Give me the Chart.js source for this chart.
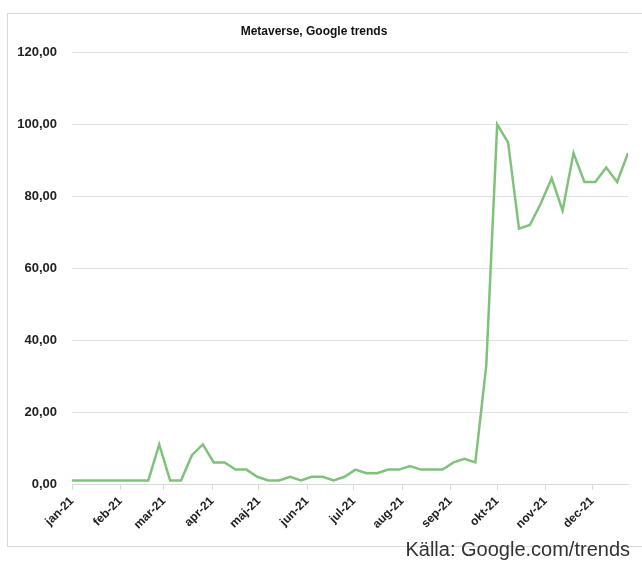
<!DOCTYPE html>
<html>
<head>
<meta charset="utf-8">
<script src="https://cdn.jsdelivr.net/npm/chart.js@4.4.0/dist/chart.umd.min.js"></script>
<style>
  html, body { margin: 0; padding: 0; background: #fff; }
  #wrap { position: relative; width: 642px; height: 561px; overflow: hidden; }
  #frame { position: absolute; left: 7px; top: 13px; width: 660px; height: 532px; border: 1px solid #d9d9d9; }
  #chart { position: absolute; left: 0; top: 0; }
  #source { position: absolute; right: 12px; top: 538px; font: 20px "Liberation Sans", Arial, sans-serif; color: #333; white-space: nowrap; }
</style>
</head>
<body>
<div id="wrap">
  <div id="frame"></div>
  <canvas id="chart" width="642" height="561"></canvas>
  <div id="source">Källa: Google.com/trends</div>
</div>
<script>
// weekly search interest for "metaverse", 2021
const weeks = [
  '2021-01-02', '2021-01-09', '2021-01-16', '2021-01-23', '2021-01-30',
  '2021-02-06', '2021-02-13', '2021-02-20', '2021-02-27',
  '2021-03-06', '2021-03-13', '2021-03-20', '2021-03-27',
  '2021-04-03', '2021-04-10', '2021-04-17', '2021-04-24',
  '2021-05-01', '2021-05-08', '2021-05-15', '2021-05-22', '2021-05-29',
  '2021-06-05', '2021-06-12', '2021-06-19', '2021-06-26',
  '2021-07-03', '2021-07-10', '2021-07-17', '2021-07-24', '2021-07-31',
  '2021-08-07', '2021-08-14', '2021-08-21', '2021-08-28',
  '2021-09-04', '2021-09-11', '2021-09-18', '2021-09-25',
  '2021-10-02', '2021-10-09', '2021-10-16', '2021-10-23', '2021-10-30',
  '2021-11-06', '2021-11-13', '2021-11-20', '2021-11-27',
  '2021-12-04', '2021-12-11', '2021-12-18', '2021-12-25'
];
const trend = [
  1, 1, 1, 1, 1, 1, 1, 1, 11,
  1, 1, 8, 11,
  6, 6, 4, 4,
  2, 1, 1, 2, 1,
  2, 2, 1, 2,
  4, 3, 3, 4, 4,
  5, 4, 4, 4,
  6, 7, 6, 33,
  100, 95, 71, 72, 78,
  85, 76, 92, 84,
  84, 88, 84, 92
];
const monthTicks = [
  '2021-01-02', '2021-02-02', '2021-03-02', '2021-04-02', '2021-05-02', '2021-06-02',
  '2021-07-02', '2021-08-02', '2021-09-02', '2021-10-02', '2021-11-02', '2021-12-02'
];
const monthLabels = [
  'jan-21', 'feb-21', 'mar-21', 'apr-21', 'maj-21', 'jun-21',
  'jul-21', 'aug-21', 'sep-21', 'okt-21', 'nov-21', 'dec-21'
];

const DAY = 86400000;
const t0 = Date.parse(weeks[0]);
const toDay = d => Math.round((Date.parse(d) - t0) / DAY);
const points = weeks.map((d, i) => ({ x: toDay(d), y: trend[i] }));
const tickDays = monthTicks.map(toDay);

const labelFont = { family: '"Liberation Sans", Arial, sans-serif', weight: 'bold' };

new Chart(document.getElementById('chart').getContext('2d'), {
  type: 'line',
  data: {
    datasets: [{
      label: 'Metaverse',
      data: points,
      borderColor: '#80c27a',
      borderWidth: 2.5,
      pointRadius: 0,
      tension: 0,
      fill: false
    }]
  },
  options: {
    responsive: false,
    animation: false,
    layout: { padding: { left: 0, right: 14, top: 0, bottom: 0 } },
    plugins: {
      legend: { display: false },
      tooltip: { enabled: false },
      title: {
        display: true,
        text: 'Metaverse, Google trends',
        color: '#111',
        font: { ...labelFont, size: 12 },
        padding: { top: 24, bottom: 14 }
      }
    },
    scales: {
      x: {
        type: 'linear',
        min: 0,
        max: toDay(weeks[weeks.length - 1]),
        afterBuildTicks: axis => { axis.ticks = tickDays.map(v => ({ value: v })); },
        afterFit: axis => { axis.height = 77; },
        ticks: {
          autoSkip: false,
          maxRotation: 45,
          minRotation: 45,
          padding: 4,
          color: '#222',
          font: { ...labelFont, size: 12 },
          callback: v => monthLabels[tickDays.indexOf(v)]
        },
        grid: { drawOnChartArea: false, drawTicks: true, tickLength: 6, color: '#d9d9d9' },
        border: { color: '#d9d9d9' }
      },
      y: {
        min: 0,
        max: 120,
        afterFit: axis => { axis.width = 72; },
        ticks: {
          stepSize: 20,
          padding: 15,
          color: '#222',
          font: { ...labelFont, size: 13 },
          callback: v => v.toFixed(2).replace('.', ',')
        },
        grid: { color: '#e0e0ea', drawTicks: false },
        border: { display: false }
      }
    }
  }
});
</script>
</body>
</html>
